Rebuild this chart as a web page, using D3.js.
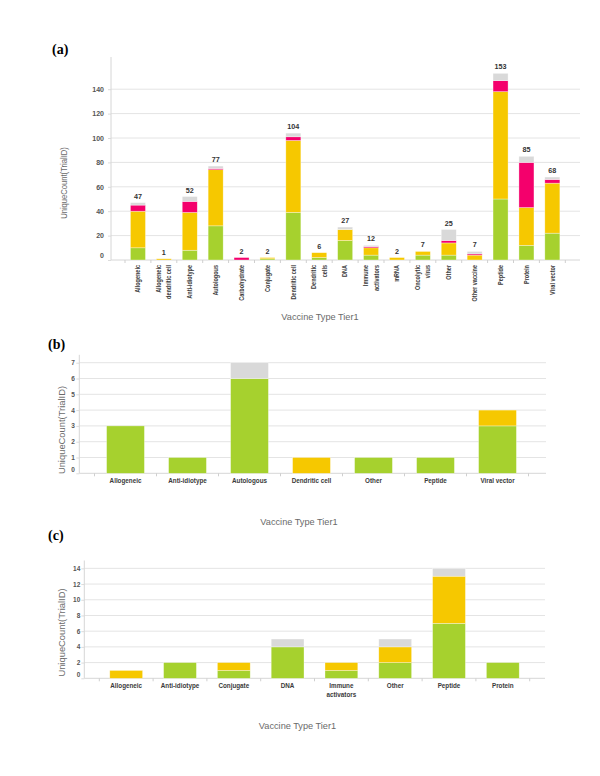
<!DOCTYPE html>
<html><head><meta charset="utf-8">
<script src="https://cdn.jsdelivr.net/npm/d3@7"></script>
<style>body{margin:0;background:#fff}</style></head>
<body><svg id="c" width="600" height="776" xmlns="http://www.w3.org/2000/svg"></svg>
<script>
// ---------- data ----------
const seriesKeys = ["green", "yellow", "pink", "gray"];
const seriesColors = ["#a6d12e", "#f6c800", "#f4006c", "#d9d9d9"];

// Panel (a)
const catsA = ["Allogeneic","Allogeneic dendritic cell","Anti-idiotype","Autologous","Carbohydrate","Conjugate","Dendritic cell","Dendritic cells","DNA","Immune activators","mRNA","Oncolytic virus","Other","Other vaccine","Peptide","Protein","Viral vector"];
const tickLabelsA = [["Allogeneic"],["Allogeneic","dendritic cell"],["Anti-idiotype"],["Autologous"],["Carbohydrate"],["Conjugate"],["Dendritic cell"],["Dendritic","cells"],["DNA"],["Immune","activators"],["mRNA"],["Oncolytic","virus"],["Other"],["Other vaccine"],["Peptide"],["Protein"],["Viral vector"]];
const greenA  = [10,0, 8,28,0,1,39,2,16,4,0,4, 4,0,50,12,22];
const yellowA = [30,1,31,46,0,1,59,4, 9,6,2,3,10,4,88,31,41];
const pinkA   = [ 5,0, 9, 1,2,0, 3,0, 0,1,0,0, 2,1, 9,37, 3];
const grayA   = [ 2,0, 4, 2,0,0, 3,0, 2,1,0,0, 9,2, 6, 5, 2];
const totalsA = [47,1,52,77,2,2,104,6,27,12,2,7,25,7,153,85,68];
const yTicksA = [0,20,40,60,80,100,120,140];

// Panel (b)
const catsB = ["Allogeneic","Anti-idiotype","Autologous","Dendritic cell","Other","Peptide","Viral vector"];
const tickLabelsB = [["Allogeneic"],["Anti-idiotype"],["Autologous"],["Dendritic cell"],["Other"],["Peptide"],["Viral vector"]];
const greenB  = [3,1,6,0,1,1,3];
const yellowB = [0,0,0,1,0,0,1];
const pinkB   = [0,0,0,0,0,0,0];
const grayB   = [0,0,1,0,0,0,0];
const yTicksB = [0,1,2,3,4,5,6,7];

// Panel (c)
const catsC = ["Allogeneic","Anti-idiotype","Conjugate","DNA","Immune activators","Other","Peptide","Protein"];
const tickLabelsC = [["Allogeneic"],["Anti-idiotype"],["Conjugate"],["DNA"],["Immune","activators"],["Other"],["Peptide"],["Protein"]];
const greenC  = [0,2,1,4,1,2,7,2];
const yellowC = [1,0,1,0,1,2,6,0];
const pinkC   = [0,0,0,0,0,0,0,0];
const grayC   = [0,0,0,1,0,1,1,0];
const yTicksC = [0,2,4,6,8,10,12,14];

const axisTitleX = "Vaccine Type Tier1";
const axisTitleY = "UniqueCount(TrialID)";

// ---------- drawing ----------
const svg = d3.select("#c");
const SANS = "'Liberation Sans', Arial, sans-serif";

function panel(cfg) {
  const g = svg.append("g");
  const rows = cfg.cats.map((c, i) => ({cat: c, green: cfg.s[0][i], yellow: cfg.s[1][i], pink: cfg.s[2][i], gray: cfg.s[3][i]}));
  const x = d3.scaleBand().domain(cfg.cats).range([cfg.bx0, cfg.bx1]);
  const y = d3.scaleLinear().domain([0, cfg.ymax]).range([cfg.base, cfg.top]);

  // gridlines
  g.append("g").selectAll("line").data(cfg.ticks.filter(t => t > 0)).join("line")
    .attr("x1", cfg.ax0).attr("x2", cfg.ax1)
    .attr("y1", d => y(d)).attr("y2", d => y(d))
    .attr("stroke", "#e4e4e4").attr("stroke-width", 1);

  // y axis
  const ya = g.append("g").attr("transform", `translate(${cfg.ax0},0)`)
    .call(d3.axisLeft(y).tickValues(cfg.ticks).tickSize(3).tickPadding(cfg.tickPad));
  ya.select(".domain").remove();
  ya.selectAll(".tick line").attr("stroke", "#dcdcdc");
  ya.selectAll(".tick text").attr("font-family", SANS).attr("font-size", cfg.tickFont)
    .attr("fill", "#555").attr("font-weight", "bold")
    .attr("dy", d => d === 0 ? "-0.35em" : "0.32em");
  g.append("line").attr("x1", cfg.ax0).attr("x2", cfg.ax0).attr("y1", cfg.top).attr("y2", cfg.base)
    .attr("stroke", "#d6d6d6");

  // x axis baseline + boundary ticks
  g.append("line").attr("x1", cfg.ax0).attr("x2", cfg.ax1).attr("y1", cfg.base).attr("y2", cfg.base)
    .attr("stroke", "#d6d6d6");
  const bounds = cfg.cats.map(c => x(c)).concat([x(cfg.cats[cfg.cats.length - 1]) + x.bandwidth()]);
  g.append("g").selectAll("line").data(bounds).join("line")
    .attr("x1", d => d).attr("x2", d => d).attr("y1", cfg.base).attr("y2", cfg.base + 3)
    .attr("stroke", "#cfcfcf");

  // bars
  const stack = d3.stack().keys(seriesKeys)(rows);
  const bw = x.bandwidth() * cfg.barFrac;
  const off = (x.bandwidth() - bw) / 2;
  g.append("g").selectAll("g").data(stack).join("g")
    .attr("fill", (d, i) => seriesColors[i])
    .selectAll("rect").data(d => d.filter(p => p[1] > p[0])).join("rect")
    .attr("x", d => x(d.data.cat) + off).attr("width", bw)
    .attr("y", d => y(d[1])).attr("height", d => y(d[0]) - y(d[1]))
    .attr("stroke", "#ffffff").attr("stroke-opacity", 0.55).attr("stroke-width", 0.6);

  // totals
  if (cfg.totals) {
    g.append("g").selectAll("text").data(cfg.cats).join("text")
      .attr("x", c => x(c) + x.bandwidth() / 2)
      .attr("y", (c, i) => y(cfg.totals[i]) - 4)
      .attr("text-anchor", "middle").attr("font-family", SANS).attr("font-size", 7.2)
      .attr("font-weight", "bold").attr("fill", "#333").text((c, i) => cfg.totals[i]);
  }

  // category labels
  const lab = g.append("g");
  cfg.cats.forEach((c, i) => {
    const cx = x(c) + x.bandwidth() / 2;
    const lines = cfg.labels[i];
    lines.forEach((ln, j) => {
      if (cfg.rotate) {
        const dx = (j - (lines.length - 1) / 2) * cfg.lineGap + cfg.labFont * 0.36;
        lab.append("text")
          .attr("transform", `translate(${cx + dx},${cfg.labY}) rotate(-90) scale(${cfg.labScale},1)`)
          .attr("text-anchor", "end").attr("font-family", SANS).attr("font-size", cfg.labFont)
          .attr("font-weight", "bold").attr("fill", "#3a3a3a").text(ln);
      } else {
        lab.append("text").attr("x", cx).attr("y", cfg.labY + j * cfg.lineGap)
          .attr("text-anchor", "middle").attr("font-family", SANS).attr("font-size", cfg.labFont)
          .attr("font-weight", "bold").attr("fill", "#3a3a3a").text(ln);
      }
    });
  });

  // axis titles
  g.append("text").attr("x", cfg.xtX).attr("y", cfg.xtY).attr("text-anchor", "middle")
    .attr("font-family", SANS).attr("font-size", 9.2).attr("fill", "#6a6a6a").text(axisTitleX);
  g.append("text").attr("transform", `translate(${cfg.ytX},${cfg.ytY}) rotate(-90) scale(${cfg.ytScale},1)`)
    .attr("text-anchor", "middle").attr("font-family", SANS).attr("font-size", 9.4)
    .attr("fill", "#6a6a6a").text(axisTitleY);

  // panel letter
  g.append("text").attr("x", cfg.pX).attr("y", cfg.pY)
    .attr("font-family", "'Liberation Serif', 'Times New Roman', serif").attr("font-size", 14)
    .attr("font-weight", "bold").attr("fill", "#000").text(cfg.letter);
}

panel({
  cats: catsA, labels: tickLabelsA, s: [greenA, yellowA, pinkA, grayA], totals: totalsA, ticks: yTicksA,
  bx0: 125, bx1: 565.3, ax0: 111, ax1: 580, base: 260, top: 57, ymax: 166.4, barFrac: 0.58,
  tickFont: 7, tickPad: 4, rotate: true, labY: 265, labFont: 6.5, labScale: 0.85, lineGap: 10.5,
  xtX: 320, xtY: 319.5, ytX: 66.5, ytY: 183, ytScale: 0.81, letter: "(a)", pX: 52, pY: 54
});
panel({
  cats: catsB, labels: tickLabelsB, s: [greenB, yellowB, pinkB, grayB], ticks: yTicksB,
  bx0: 94.5, bx1: 528.5, ax0: 79.3, ax1: 546, base: 473.3, top: 354.8, ymax: 7.5, barFrac: 0.61,
  tickFont: 6.5, tickPad: 1.5, rotate: false, labY: 482.5, labFont: 6.3, lineGap: 8.6,
  xtX: 299, xtY: 525, ytX: 64.5, ytY: 430, ytScale: 1, letter: "(b)", pX: 48, pY: 349
});
panel({
  cats: catsC, labels: tickLabelsC, s: [greenC, yellowC, pinkC, grayC], ticks: yTicksC,
  bx0: 99.3, bx1: 529.7, ax0: 84.3, ax1: 545, base: 678.3, top: 560.5, ymax: 15, barFrac: 0.61,
  tickFont: 6.5, tickPad: 1, rotate: false, labY: 688, labFont: 6.3, lineGap: 8.6,
  xtX: 297.5, xtY: 728.5, ytX: 64.5, ytY: 632.5, ytScale: 1, letter: "(c)", pX: 48, pY: 540
});
</script>
</body></html>
